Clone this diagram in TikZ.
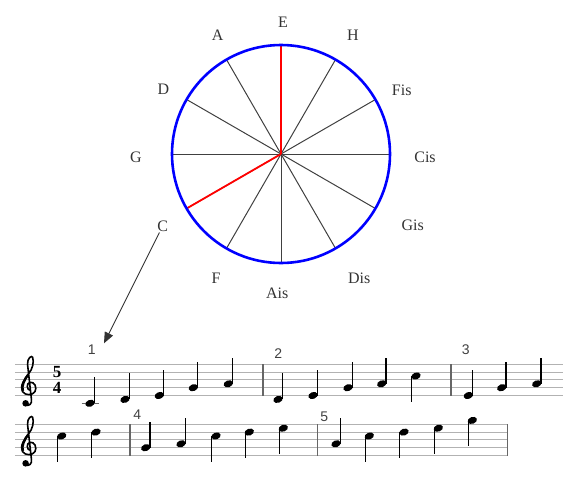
\documentclass[tikz,border=0pt]{standalone}
\usepackage{fontspec}
\setmainfont{Liberation Serif}
\newfontfamily\numfont{Liberation Sans}
\usetikzlibrary{arrows.meta}

\tikzset{
  ring/.style={blue, line width=2.6pt},
  spoke/.style={black!75, line width=1pt},
  redspoke/.style={red, line width=1.8pt},
  lbl/.style={text=black!80, font=\fontsize{16}{16}\selectfont, inner sep=1pt},
  pointer/.style={black!80, line width=0.9pt, -{Triangle[length=11pt,width=9pt]}},
  stafflines/.style={black!30, line width=1.1pt},
  barline/.style={black!60, line width=1.4pt},
  notestem/.style={black, line width=1.2pt},
  barnum/.style={text=black!75, font=\numfont\fontsize{14}{14}\selectfont, inner sep=0pt},
  timesig/.style={font=\bfseries\fontsize{17}{17}\selectfont, inner sep=0pt},
  % treble clef, origin on the G line
  gclef/.pic={
    \begin{scope}[x=7.8pt,y=-7.8pt]
      \draw[line width=1.6pt, line cap=round]
        (0.1,0.35) .. controls (-0.35,0.3) and (-0.45,-0.55) .. (0.05,-0.7)
        .. controls (0.65,-0.8) and (1.0,0.0) .. (0.7,0.5)
        .. controls (0.4,1.0) and (-0.5,1.05) .. (-0.9,0.5)
        .. controls (-1.3,-0.2) and (-0.6,-1.2) .. (-0.1,-1.8)
        .. controls (0.4,-2.4) and (0.6,-3.3) .. (0.4,-3.9)
        .. controls (0.3,-4.2) and (-0.3,-3.8) .. (-0.25,-3.0)
        -- (0.25,1.5)
        .. controls (0.35,2.1) and (-0.1,2.4) .. (-0.5,2.2);
      \draw[line width=2.4pt] (-0.85,0.4) .. controls (-1.1,-0.2) and (-0.6,-1.1) .. (-0.15,-1.7);
      \fill (-0.5,2.0) circle[radius=0.42];
    \end{scope}
  }
}

\begin{document}
\begin{tikzpicture}[x=1pt,y=-1pt]
		\useasboundingbox (0,0) rectangle (581,480);
		
		% circle of fifths
		\def\r{109}
		\coordinate (O) at (281,154);
		\foreach \a in {0,30,...,330}
			\draw[spoke] (O) -- ++(\a:\r);
		\draw[redspoke] (O) -- ++(-90:\r);
		\draw[redspoke] (O) -- ++(150:\r);
		\draw[ring] (O) circle[radius=\r];
		
		% note names round the circle
		\foreach \lab/\px/\py in {E/283/22.7, H/353/35, Fis/401.7/90, Cis/425/157,
			Gis/412.7/225, Dis/359.3/278.3, Ais/277.3/293.3, F/216/278.3,
			C/162.7/226, G/136/157, D/163.3/89.3, A/217.7/35}
			\node[lbl] (n\lab) at (\px,\py) {\lab};
		
		% arrow from C down to the first note
		\coordinate (tip) at (104,343.3);
		\draw[pointer] (nC) -- (tip);
		
		% staves
		\def\sp{7.8}
		\foreach \i in {0,...,4} {
			\draw[stafflines] (15,364.3+\i*\sp) -- (563,364.3+\i*\sp);
			\draw[stafflines] (15,424.3+\i*\sp) -- (507.7,424.3+\i*\sp);
		}
		% bar lines
		\foreach \x in {263,451}
			\draw[barline] (\x,364.3) -- (\x,395.5);
		\foreach \x in {130,317.7,507.7}
			\draw[barline] (\x,424.3) -- (\x,455.5);
		
		% clefs and time signature
		\pic at (29.5,387.7) {gclef};
		\pic at (29.5,447.7) {gclef};
		\node[timesig] (tsup) at (57,372) {5};
		\node[timesig] (tsdown) at (57,387.7) {4};
		
		% bar numbers
		\node[barnum] (bone) at (91.7,349.5) {1};
		\node[barnum] (btwo) at (278.3,353.3) {2};
		\node[barnum] (bthree) at (465.7,349.7) {3};
		\node[barnum] (bfour) at (137.3,415) {4};
		\node[barnum] (bfive) at (324.3,416.5) {5};
		
		% ledger line under the low C
		\draw[stafflines, black!60] (81.5,403.3) -- (98.5,403.3);
		
		% notes: x / step above the bottom line (0 = E)
		\foreach \x/\s in {90/-2, 125/-1, 159.3/0, 193.3/2, 228.3/3, 278/-1, 313/0,
			348/2, 381.7/3, 416/5, 468.3/0, 501.7/2, 536.7/3} {
			\pgfmathsetmacro\ny{395.5-\s*\sp/2}
			\fill (\x,\ny) ellipse[x radius=4.8, y radius=3.4, rotate=20];
			\ifnum\s<4 \draw[notestem] (\x+4.2,\ny) -- ++(0,-26);
			\else \draw[notestem] (\x-4.2,\ny) -- ++(0,26); \fi
		}
		\foreach \x/\s in {61.7/5, 96/6, 145.7/2, 181/3, 216/5, 249.3/6, 283.3/7,
			336/3, 369.3/5, 404/6, 438.3/7, 472.3/9} {
			\pgfmathsetmacro\ny{455.5-\s*\sp/2}
			\fill (\x,\ny) ellipse[x radius=4.8, y radius=3.4, rotate=20];
			\ifnum\s<4 \draw[notestem] (\x+4.2,\ny) -- ++(0,-26);
			\else \draw[notestem] (\x-4.2,\ny) -- ++(0,26); \fi
		}
		
\end{tikzpicture}
\end{document}
